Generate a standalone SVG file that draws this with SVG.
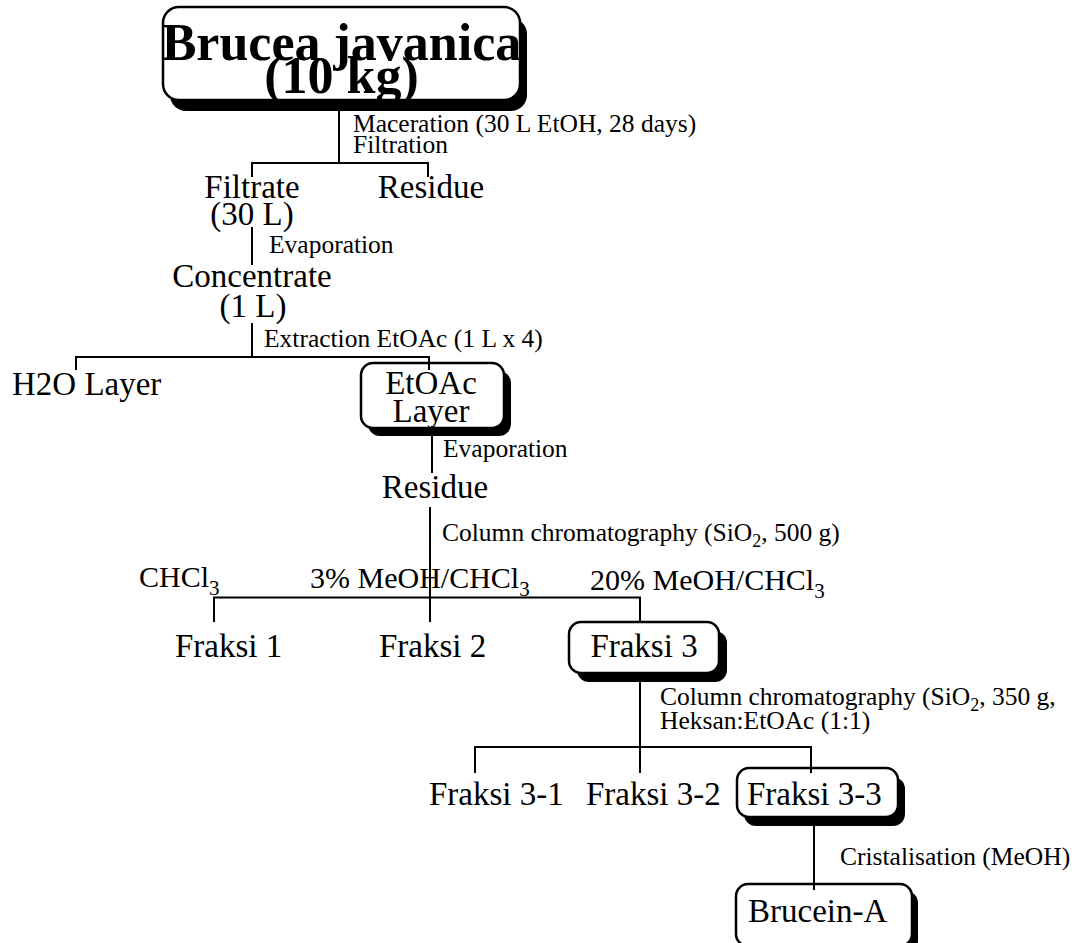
<svg xmlns="http://www.w3.org/2000/svg" width="1074" height="943" viewBox="0 0 1074 943">
<style>
text{font-family:"Liberation Serif","Times New Roman",serif;fill:#000}
.title{font-size:52px;font-weight:bold}
.main{font-size:33px}
.note{font-size:25.5px}
.sol{font-size:30px}
.box{fill:#fff;stroke:#000;stroke-width:2.5}
.shadow{fill:#000}
.conn{fill:none;stroke:#000;stroke-width:2}
</style>
<rect width="1074" height="943" fill="#fff"/>
<g id="brucea">
<rect class="shadow" x="170" y="18" width="357" height="93" rx="16"/>
<rect class="box" x="163" y="7" width="357" height="93" rx="16"/>
<text class="title" x="341.5" y="60" text-anchor="middle">Brucea javanica</text>
<text class="title" x="341.5" y="93" text-anchor="middle">(10 kg)</text>
</g>
<g id="filtrate">
<text class="main" x="252" y="198" text-anchor="middle">Filtrate</text>
<text class="main" x="252" y="225" text-anchor="middle">(30 L)</text>
</g>
<g id="residue1"><text class="main" x="431" y="198" text-anchor="middle">Residue</text></g>
<g id="concentrate">
<text class="main" x="252" y="287" text-anchor="middle">Concentrate</text>
<text class="main" x="253" y="317" text-anchor="middle">(1 L)</text>
</g>
<g id="h2o"><text class="main" x="12" y="395">H2O Layer</text></g>
<g id="etoac">
<rect class="shadow" x="368" y="371" width="143" height="65" rx="12"/>
<rect class="box" x="361" y="363" width="143" height="65" rx="12"/>
<text class="main" x="431" y="394" text-anchor="middle">EtOAc</text>
<text class="main" x="431" y="422" text-anchor="middle">Layer</text>
</g>
<g id="residue2"><text class="main" x="435" y="498" text-anchor="middle">Residue</text></g>
<g id="fraksi1"><text class="main" x="175" y="657">Fraksi 1</text></g>
<g id="fraksi2"><text class="main" x="379" y="657">Fraksi 2</text></g>
<g id="fraksi3">
<rect class="shadow" x="577" y="631" width="150" height="51" rx="12"/>
<rect class="box" x="569" y="622" width="150" height="51" rx="12"/>
<text class="main" x="644" y="657" text-anchor="middle">Fraksi 3</text>
</g>
<g id="fraksi31"><text class="main" x="429" y="805">Fraksi 3-1</text></g>
<g id="fraksi32"><text class="main" x="586" y="805">Fraksi 3-2</text></g>
<g id="fraksi33">
<rect class="shadow" x="744" y="777" width="161" height="49" rx="12"/>
<rect class="box" x="737" y="768" width="161" height="49" rx="12"/>
<text class="main" x="747" y="805">Fraksi 3-3</text>
</g>
<g id="brucein">
<rect class="shadow" x="742" y="891" width="176" height="62" rx="12"/>
<rect class="box" x="736" y="884" width="176" height="62" rx="12"/>
<text class="main" x="748" y="922">Brucein-A</text>
</g>
<g id="labels">
<text class="note" x="353" y="132">Maceration (30 L EtOH, 28 days)</text>
<text class="note" x="353" y="153">Filtration</text>
<text class="note" x="269" y="253">Evaporation</text>
<text class="note" x="264" y="347">Extraction EtOAc (1 L x 4)</text>
<text class="note" x="443" y="457">Evaporation</text>
<text class="note" x="442" y="541">Column chromatography (SiO<tspan font-size="18" dy="6">2</tspan><tspan dy="-6">, 500 g)</tspan></text>
<text class="sol" x="139" y="587">CHCl<tspan font-size="21" dy="8">3</tspan></text>
<text class="sol" x="310" y="588">3% MeOH/CHCl<tspan font-size="21" dy="8">3</tspan></text>
<text class="sol" x="590" y="590">20% MeOH/CHCl<tspan font-size="21" dy="8">3</tspan></text>
<text class="note" x="660" y="705">Column chromatography (SiO<tspan font-size="18" dy="6">2</tspan><tspan dy="-6">, 350 g,</tspan></text>
<text class="note" x="660" y="729">Heksan:EtOAc (1:1)</text>
<text class="note" x="840" y="865">Cristalisation (MeOH)</text>
</g>
<g id="connectors" class="conn">
<path d="M339,100 V163 M252,177 V163 H428 V177"/>
<path d="M252,227 V265"/>
<path d="M252,323 V357 M76,370 V357 H429 V370"/>
<path d="M432,426 V473"/>
<path d="M430,507 V622 M214,622 V597.5 H640 V622"/>
<path d="M640,673 V773 M475,773 V747 H811 V773"/>
<path d="M814,817 V890"/>
</g>
</svg>
